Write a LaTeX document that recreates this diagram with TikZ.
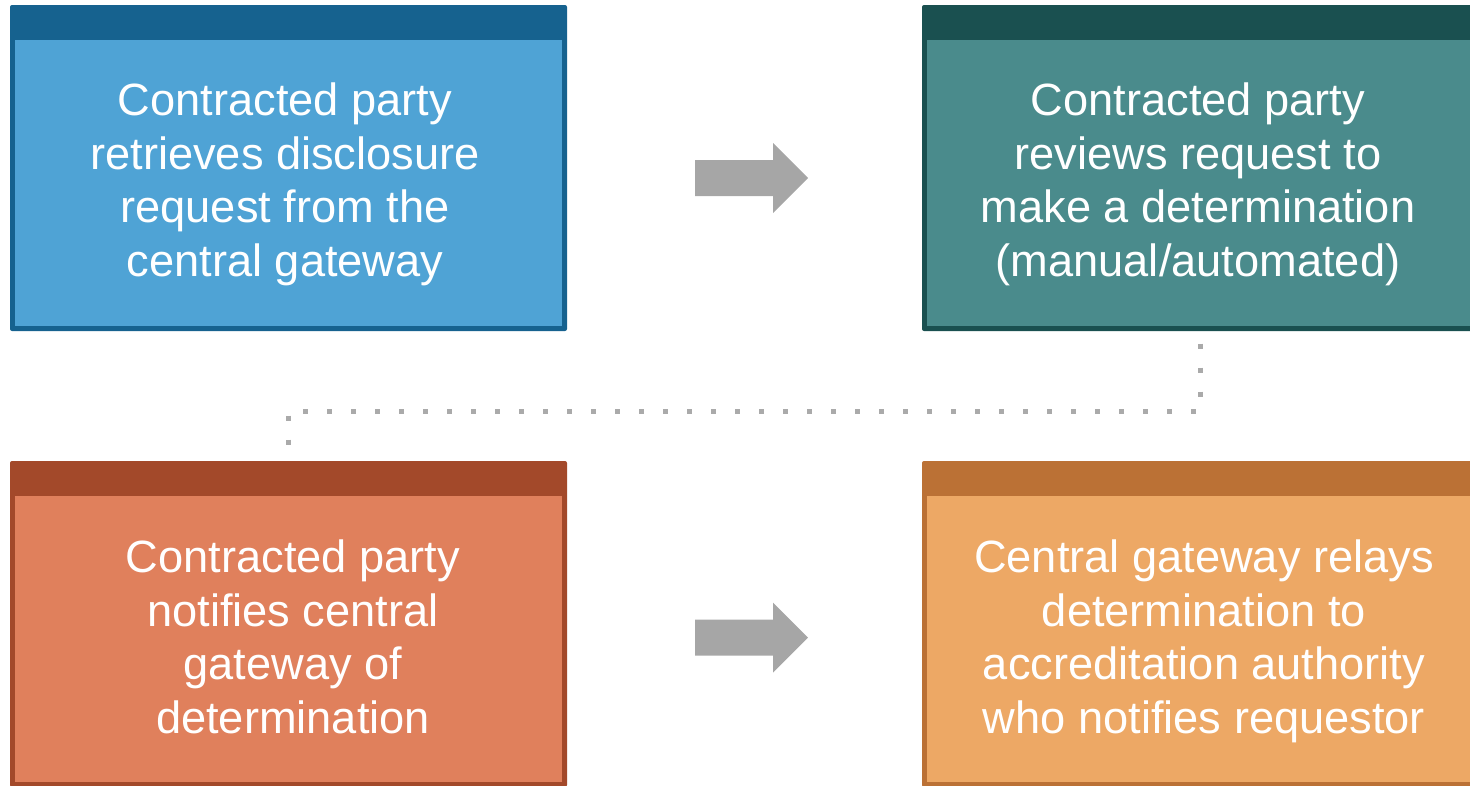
\documentclass[tikz,border=0pt]{standalone}
\usepackage{fontspec}
\setmainfont{Liberation Sans}
\definecolor{hdA}{RGB}{22,98,143}
\definecolor{fillA}{RGB}{79,163,213}
\definecolor{hdB}{RGB}{26,80,80}
\definecolor{fillB}{RGB}{74,139,140}
\definecolor{hdC}{RGB}{163,73,42}
\definecolor{fillC}{RGB}{224,128,92}
\definecolor{hdD}{RGB}{187,113,53}
\definecolor{fillD}{RGB}{237,168,101}
\definecolor{arrgray}{RGB}{166,166,166}
\definecolor{dotgray}{RGB}{170,170,170}
\tikzset{
  boxtext/.style={text=white, align=center, inner sep=0pt,
    font=\fontsize{45.2}{53.5}\selectfont},
  blockarrow/.style={fill=arrgray, draw=none},
  dotline/.style={draw=dotgray, line width=5pt, line cap=butt,
    dash pattern=on 5pt off 19pt},
}
\newcommand{\cardbox}[6]{% x1,y1,x2,y2,header,fill
  \fill[#5, rounded corners=2pt] (#1,#2) rectangle (#3,#4);
  \fill[#6] (#1+5,#2+35) rectangle (#3-5,#4-5);
}
\newcommand{\blockarr}[2]{% x left, y center
  \fill[blockarrow] (#1,#2-18) -- (#1+78,#2-18) -- (#1+78,#2-35) -- (#1+113,#2)
    -- (#1+78,#2+35) -- (#1+78,#2+18) -- (#1,#2+18) -- cycle;
}
\begin{document}
\begin{tikzpicture}[x=1pt,y=-1pt]
\useasboundingbox (0,0) rectangle (1470,785);
\clip (0,0) rectangle (1470,785);
\cardbox{10}{5}{567}{331}{hdA}{fillA}
\cardbox{922}{5}{1479}{331}{hdB}{fillB}
\cardbox{10}{461}{567}{787}{hdC}{fillC}
\cardbox{922}{461}{1479}{787}{hdD}{fillD}

\node[boxtext] (t1) at (285,185.5) {\strut Contracted party\\retrieves disclosure\\request from the\\central gateway\strut};
\node[boxtext] (t2) at (1198,185.5) {\strut Contracted party\\reviews request to\\make a determination\\(manual/automated)\strut};
\node[boxtext] (t3) at (293,642.5) {\strut Contracted party\\notifies central\\gateway of\\determination\strut};
\node[boxtext] (t4) at (1204,642.5) {\strut Central gateway relays\\determination to\\accreditation authority\\who notifies requestor\strut};

\blockarr{695}{178}
\blockarr{695}{637.5}

\coordinate (d1) at (1200,343.5);
\coordinate (d2) at (1200,411);
\coordinate (d3) at (288,411);
\coordinate (d4) at (288,446);
\draw[dotline] (d1) -- (d2) -- (d3) -- (d4);
\end{tikzpicture}
\end{document}
